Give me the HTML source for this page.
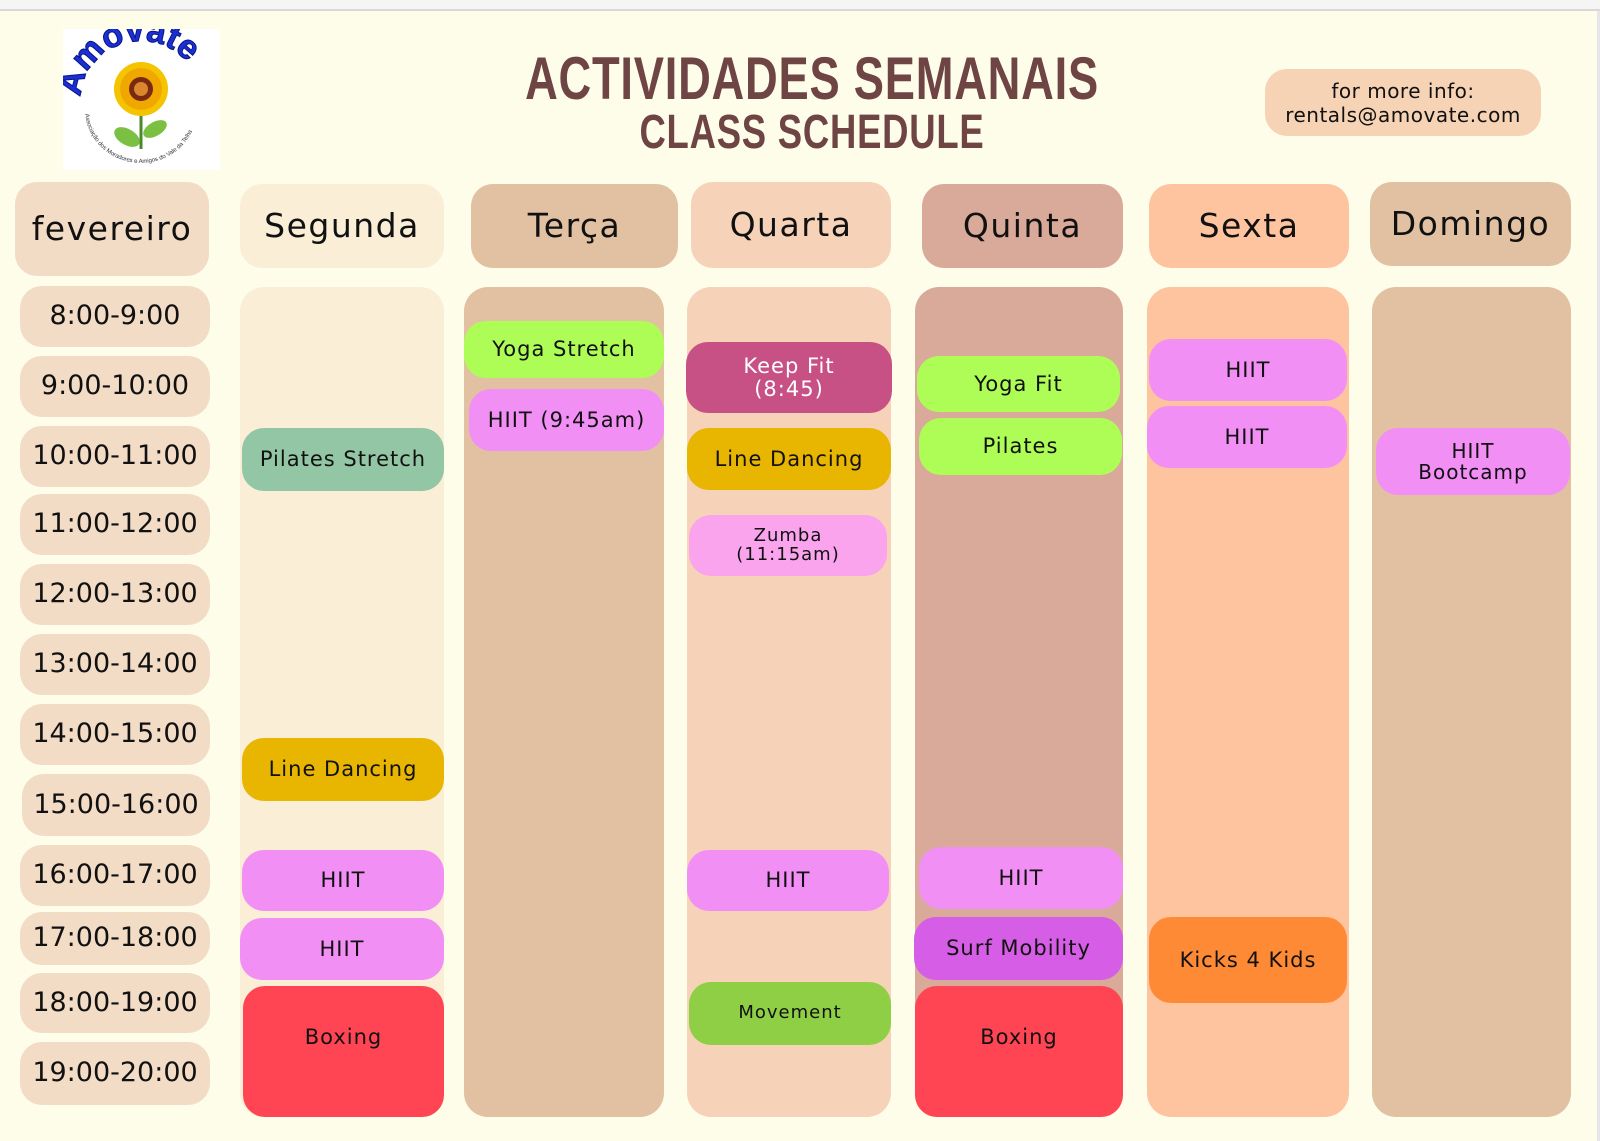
<!DOCTYPE html>
<html><head><meta charset="utf-8"><style>
*{margin:0;padding:0;box-sizing:border-box}
body{width:1600px;height:1141px;background:#fdfde9;position:relative;overflow:hidden;font-family:"DejaVu Sans","Liberation Sans",sans-serif;color:#111}
.b{position:absolute;display:flex;align-items:center;justify-content:center;text-align:center;border-radius:22px;letter-spacing:1px;line-height:1.05}
.h{font-size:33px;letter-spacing:1.5px}
.t{font-size:27px;background:#f3dcc6;letter-spacing:0}
.e{font-size:21px}
.col{position:absolute;top:287px;height:830px;border-radius:24px}
.ttl{position:absolute;white-space:nowrap;text-align:center;font-family:'Liberation Sans',sans-serif;font-weight:bold;color:#6e4444;transform-origin:center center}
</style></head><body>
<div style="position:absolute;left:0;top:0;width:1600px;height:11px;background:#f5f5f5;border-bottom:2px solid #d8d8d8"></div>
<div style="position:absolute;right:0;top:11px;width:3px;height:1130px;background:#e6e6e6"></div>

<div style="position:absolute;left:63px;top:29px;width:157px;height:141px;background:#fff">
<svg width="157" height="141" viewBox="0 0 157 141">
<defs><path id="arc" d="M18,70 A60,58 0 0 1 138,70"/><path id="arc2" d="M22,80 A56,54 0 0 0 134,80"/></defs>
<text font-family="Liberation Sans,sans-serif" font-weight="bold" font-size="34" fill="#1a2fd6" stroke="#0a1480" stroke-width="1"><textPath href="#arc" startOffset="2">Amovate</textPath></text>
<text font-family="Liberation Sans,sans-serif" font-size="6" fill="#333"><textPath href="#arc2" startOffset="5">Associação dos Moradores e Amigos do Vale da Telha</textPath></text>
<line x1="78" y1="80" x2="78" y2="120" stroke="#4a8a2a" stroke-width="3"/>
<ellipse cx="64" cy="108" rx="14" ry="8" fill="#7cc043" transform="rotate(30 64 108)"/>
<ellipse cx="92" cy="100" rx="13" ry="7" fill="#7cc043" transform="rotate(-30 92 100)"/>
<circle cx="78" cy="60" r="27" fill="#f5c400"/>
<circle cx="78" cy="60" r="21" fill="#f0a800"/>
<circle cx="78" cy="60" r="12" fill="#7a2a10"/>
<circle cx="78" cy="60" r="7" fill="#d9862c"/>
</svg></div>

<div class="ttl" style="left:412px;top:48px;width:800px;font-size:60px;line-height:62px;letter-spacing:1px;transform:scaleX(0.755)">ACTIVIDADES SEMANAIS</div>
<div class="ttl" style="left:512px;top:108px;width:600px;font-size:48px;line-height:50px;letter-spacing:1px;transform:scaleX(0.76)">CLASS SCHEDULE</div>

<div class="b" style="left:1265px;top:69px;width:276px;height:67px;background:#f6d3b5;font-size:20px;flex-direction:column;letter-spacing:0.5px;line-height:24px">for more info:<br>rentals@amovate.com</div>

<div class="b h" style="left:15px;top:182px;width:194px;height:94px;background:#f3dcc6">fevereiro</div>
<div class="b h" style="left:240px;top:184px;width:204px;height:84px;background:#faefd6">Segunda</div>
<div class="b h" style="left:471px;top:184px;width:207px;height:84px;background:#e1c1a2">Terça</div>
<div class="b h" style="left:691px;top:182px;width:200px;height:86px;background:#f6d3b8">Quarta</div>
<div class="b h" style="left:922px;top:184px;width:201px;height:84px;background:#d9aa9a">Quinta</div>
<div class="b h" style="left:1149px;top:184px;width:200px;height:84px;background:#fec4a0">Sexta</div>
<div class="b h" style="left:1370px;top:182px;width:201px;height:84px;background:#e1c1a2">Domingo</div>

<div class="col" style="left:240px;width:204px;background:#faefd6"></div>
<div class="col" style="left:464px;width:200px;background:#e1c1a2"></div>
<div class="col" style="left:687px;width:204px;background:#f6d3b8"></div>
<div class="col" style="left:915px;width:208px;background:#d9aa9a"></div>
<div class="col" style="left:1147px;width:202px;background:#fec4a0"></div>
<div class="col" style="left:1372px;width:199px;background:#e1c1a2"></div>

<div class="b t" style="left:20px;top:286px;width:190px;height:61px">8:00-9:00</div>
<div class="b t" style="left:20px;top:356px;width:190px;height:61px">9:00-10:00</div>
<div class="b t" style="left:20px;top:426px;width:190px;height:61px">10:00-11:00</div>
<div class="b t" style="left:20px;top:494px;width:190px;height:61px">11:00-12:00</div>
<div class="b t" style="left:20px;top:564px;width:190px;height:61px">12:00-13:00</div>
<div class="b t" style="left:20px;top:634px;width:190px;height:61px">13:00-14:00</div>
<div class="b t" style="left:20px;top:704px;width:190px;height:61px">14:00-15:00</div>
<div class="b t" style="left:22px;top:774px;width:188px;height:62px">15:00-16:00</div>
<div class="b t" style="left:20px;top:845px;width:190px;height:61px">16:00-17:00</div>
<div class="b t" style="left:20px;top:912px;width:190px;height:53px">17:00-18:00</div>
<div class="b t" style="left:20px;top:973px;width:190px;height:60px">18:00-19:00</div>
<div class="b t" style="left:20px;top:1042px;width:190px;height:63px">19:00-20:00</div>

<div class="b e" style="left:242px;top:428px;width:202px;height:63px;background:#93c6a4">Pilates Stretch</div>
<div class="b e" style="left:242px;top:738px;width:202px;height:63px;background:#e8b500">Line Dancing</div>
<div class="b e" style="left:242px;top:850px;width:202px;height:61px;background:#f18ff5">HIIT</div>
<div class="b e" style="left:240px;top:918px;width:204px;height:62px;background:#f18ff5">HIIT</div>
<div class="b e" style="left:243px;top:986px;width:201px;height:131px;background:#ff4553;align-items:flex-start;padding-top:40px">Boxing</div>

<div class="b e" style="left:464px;top:321px;width:200px;height:57px;background:#aefd57">Yoga Stretch</div>
<div class="b e" style="left:469px;top:389px;width:195px;height:62px;background:#f18ff5">HIIT (9:45am)</div>

<div class="b e" style="left:686px;top:342px;width:206px;height:71px;background:#c75185;color:#fff">Keep Fit<br>(8:45)</div>
<div class="b e" style="left:687px;top:428px;width:204px;height:62px;background:#e8b500">Line Dancing</div>
<div class="b e" style="left:689px;top:515px;width:198px;height:61px;background:#fba4ee;font-size:18px">Zumba<br>(11:15am)</div>
<div class="b e" style="left:687px;top:850px;width:202px;height:61px;background:#f18ff5">HIIT</div>
<div class="b e" style="left:689px;top:982px;width:202px;height:63px;background:#8fcf46;font-size:18px">Movement</div>

<div class="b e" style="left:917px;top:356px;width:203px;height:56px;background:#aefd57">Yoga Fit</div>
<div class="b e" style="left:919px;top:418px;width:203px;height:57px;background:#aefd57">Pilates</div>
<div class="b e" style="left:919px;top:847px;width:204px;height:62px;background:#f18ff5">HIIT</div>
<div class="b e" style="left:914px;top:917px;width:209px;height:63px;background:#d65de6">Surf Mobility</div>
<div class="b e" style="left:915px;top:986px;width:208px;height:131px;background:#ff4553;align-items:flex-start;padding-top:40px">Boxing</div>

<div class="b e" style="left:1149px;top:339px;width:198px;height:62px;background:#f18ff5">HIIT</div>
<div class="b e" style="left:1147px;top:406px;width:200px;height:62px;background:#f18ff5">HIIT</div>
<div class="b e" style="left:1149px;top:917px;width:198px;height:86px;background:#ff8a36">Kicks 4 Kids</div>

<div class="b e" style="left:1376px;top:428px;width:194px;height:67px;background:#f18ff5;font-size:20px">HIIT<br>Bootcamp</div>
</body></html>
